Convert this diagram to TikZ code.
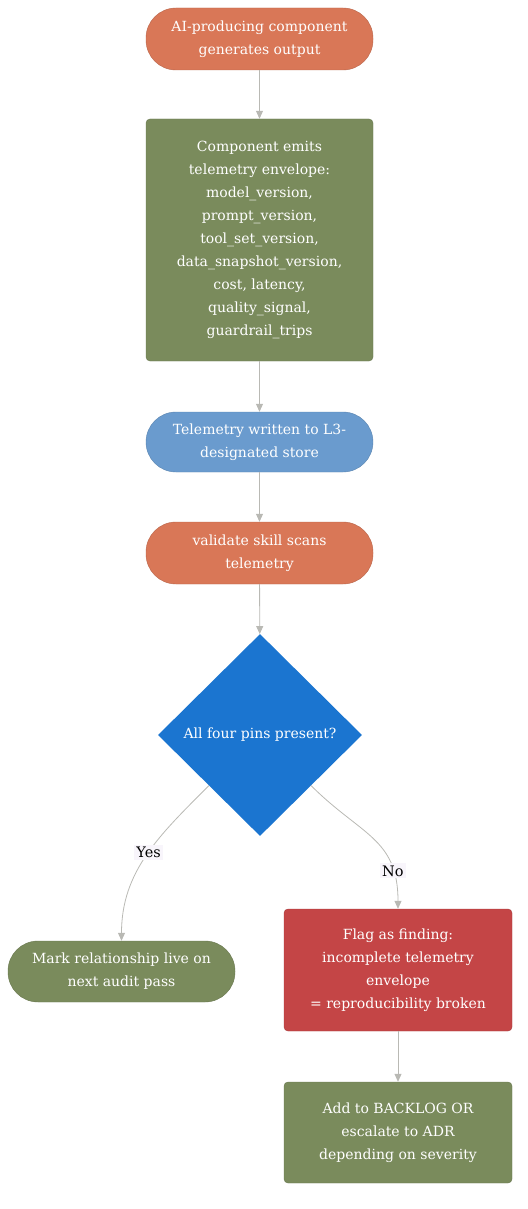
\documentclass[tikz,border=0pt]{standalone}
\usepackage{fontspec}
\setmainfont{DejaVu Serif}
\usetikzlibrary{shapes.geometric,arrows.meta}
\definecolor{orangeA}{RGB}{217,119,87}
\definecolor{greenA}{RGB}{122,139,92}
\definecolor{blueA}{RGB}{106,155,206}
\definecolor{blueD}{RGB}{27,117,208}
\definecolor{redA}{RGB}{196,69,70}
\definecolor{linegray}{RGB}{185,185,180}
\definecolor{lblbg}{RGB}{248,245,251}
\begin{document}
\begin{tikzpicture}[x=1pt,y=-1pt,
    box/.style={draw=#1!85!black, fill=#1, text=white, align=center,
      font=\fontsize{14}{23}\selectfont, minimum width=227pt, inner sep=4pt},
    pill/.style={box=#1, rounded corners=30pt, minimum height=62pt},
    plain/.style={box=#1, rounded corners=4pt},
    link/.style={draw=linegray, ->, line width=0.8pt},
    lbl/.style={fill=lblbg, text=black, font=\fontsize{14.5}{16}\selectfont, inner sep=2pt},
    >={Triangle[length=8pt,width=7pt]}]
            \useasboundingbox (0,0) rectangle (527,1209);

            \node[pill=orangeA] (gen) at (259.5,39) {AI-producing component\\generates output};
            \node[plain=greenA, minimum height=242pt] (emit) at (259.5,240)
              {Component emits\\telemetry envelope:\\model\_version,\\prompt\_version,\\tool\_set\_version,\\data\_snapshot\_version,\\cost, latency,\\quality\_signal,\\guardrail\_trips};
            \node[pill=blueA, minimum height=60pt] (store) at (259.5,442) {Telemetry written to L3-\\designated store};
            \node[pill=orangeA] (scan) at (259.5,553) {validate skill scans\\telemetry};

            \node[diamond, fill=blueD, text=white, minimum width=204pt, minimum height=202pt,
              inner sep=0pt, font=\fontsize{14}{23}\selectfont] (pins) at (260,735) {All four pins present?};

            \node[pill=greenA, minimum height=61pt] (live) at (121.5,971.5) {Mark relationship live on\\next audit pass};
            \node[plain=redA, minimum width=228pt, minimum height=122pt] (flag) at (398,970)
              {Flag as finding:\\incomplete telemetry\\envelope\\= reproducibility broken};
            \node[plain=greenA, minimum width=228pt, minimum height=101pt] (backlog) at (398,1132.5)
              {Add to BACKLOG OR\\escalate to ADR\\depending on severity};

            \draw[link] (gen) -- (emit);
            \draw[link] (emit) -- (store);
            \draw[link] (store) -- (scan);
            \draw[link] (scan) -- (pins);
            \draw[link] (pins.south west) to[out=-135,in=90] node[lbl, pos=0.48] (yes) {Yes} (live);
            \draw[link] (pins.south east) to[out=-45,in=90,looseness=1.2] node[lbl, pos=0.78] (no) {No} (flag);
            \draw[link] (flag) -- (backlog);
          \end{tikzpicture}
\end{document}
